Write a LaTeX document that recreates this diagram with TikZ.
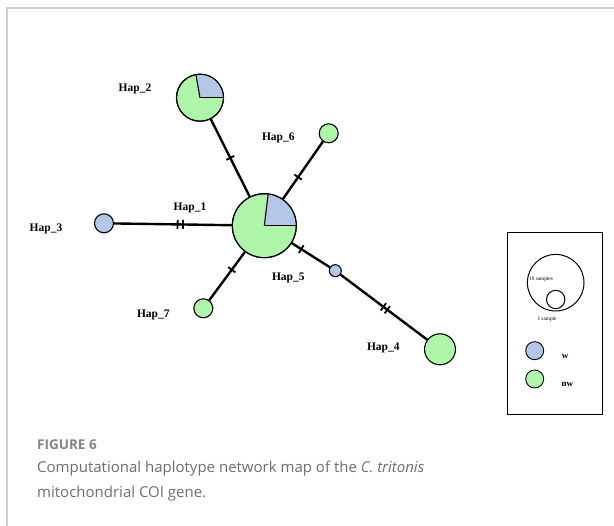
\documentclass[tikz,border=0pt]{standalone}
\usepackage{fontspec}
\setmainfont{Liberation Serif}
\newfontfamily\capfont{Open Sans}
\definecolor{hgreen}{HTML}{AEF5AA}
\definecolor{hblue}{HTML}{B4C7E8}
\definecolor{framegray}{HTML}{CFCFCF}
\definecolor{capgray}{HTML}{6E6E6E}
\begin{document}
\begin{tikzpicture}[x=1pt,y=-1pt,
  hap/.style={circle, draw=black, line width=1.1pt, inner sep=0pt, minimum size=#1},
  hlabel/.style={font=\bfseries\fontsize{11.5}{13}\selectfont, inner sep=0pt},
  edge/.style={line width=2.4pt},
  tickmark/.style={fill=black, inner sep=0pt, minimum width=1.8pt, minimum height=9pt, sloped},
  pieline/.style={line width=1.1pt}
]
\useasboundingbox (0,0) rectangle (614,526);
% frame
\draw[framegray, line width=1.5pt] (7,526) -- (7,8) -- (614,8);

% haplotype circles
\node[hap=64pt, fill=hgreen] (h1) at (264.3,225.7) {};
\node[hap=47pt, fill=hgreen] (h2) at (200,97.7) {};
\node[hap=19pt, fill=hgreen] (h6) at (328.7,133.3) {};
\node[hap=19pt, fill=hblue]  (h3) at (104,223.3) {};
\node[hap=19pt, fill=hgreen] (h7) at (203.3,308.3) {};
\node[hap=12pt, fill=hblue]  (h5) at (335.3,270.7) {};
\node[hap=31pt, fill=hgreen] (h4) at (440,349.3) {};

% pie sectors
\fill[hblue] (h1.center) -- +(0:31.5) arc (0:-83:31.5) -- cycle;
\draw[pieline] (h1.center) -- +(0:31.5);
\draw[pieline] (h1.center) -- +(-83:31.5);
\fill[hblue] (h2.center) -- +(0:23) arc (0:-100:23) -- cycle;
\draw[pieline] (h2.center) -- +(0:23);
\draw[pieline] (h2.center) -- +(-100:23);
\draw[line width=1.1pt] (h1.center) circle[radius=32];
\draw[line width=1.1pt] (h2.center) circle[radius=23.5];

% edges
\draw[edge] (h2) -- node[tickmark, pos=0.5]{} (h1);
\draw[edge] (h6) -- node[tickmark, pos=0.62]{} (h1);
\draw[edge] (h3) -- node[tickmark, pos=0.54]{} node[tickmark, pos=0.585]{} (h1);
\draw[edge] (h7) -- node[tickmark, pos=0.63]{} (h1);
\draw[edge] (h1) -- node[tickmark, pos=0.25]{} (h5);
\draw[edge] (h5) -- node[tickmark, pos=0.495]{} node[tickmark, pos=0.54]{} (h4);

% labels
\node[hlabel] (l2) at (135,89.3) {Hap\_2};
\node[hlabel] (l6) at (278.3,138.3) {Hap\_6};
\node[hlabel] (l1) at (190,208.3) {Hap\_1};
\node[hlabel] (l3) at (46,229) {Hap\_3};
\node[hlabel] (l7) at (153.3,315) {Hap\_7};
\node[hlabel] (l5) at (288.3,278.3) {Hap\_5};
\node[hlabel] (l4) at (383.3,348.3) {Hap\_4};

% legend
\draw[line width=1pt] (507.3,232.7) rectangle (602.7,415);
\node[circle, draw=black, line width=1pt, inner sep=0pt, minimum size=56.6pt] (big) at (555.7,282.7) {};
\node[circle, draw=black, line width=1pt, inner sep=0pt, minimum size=18.4pt] (small) at (555.7,299.5) {};
\node[font=\fontsize{5.3}{6}\selectfont, inner sep=0pt] (t10) at (541,279.3) {10 samples};
\node[font=\fontsize{5.3}{6}\selectfont, inner sep=0pt] (t1) at (547,319) {1 sample};
\node[hap=18pt, fill=hblue, line width=0.9pt] (lw) at (534.7,350.7) {};
\node[hap=18pt, fill=hgreen, line width=0.9pt] (lnw) at (534.7,379) {};
\node[font=\bfseries\fontsize{9}{10}\selectfont, inner sep=0pt] (tw) at (565,356) {w};
\node[font=\bfseries\fontsize{9}{10}\selectfont, inner sep=0pt] (tnw) at (567.3,384) {nw};

% caption
\node[font=\capfont\bfseries\fontsize{13.5}{15}\selectfont, text=capgray!85, anchor=base west, inner sep=0pt] (fig) at (37,449.3) {FIGURE 6};
\node[font=\capfont\fontsize{15}{18}\selectfont, text=capgray, anchor=base west, inner sep=0pt] (cap1) at (37,472.3) {Computational haplotype network map of the \textit{C. tritonis}};
\node[font=\capfont\fontsize{15}{18}\selectfont, text=capgray, anchor=base west, inner sep=0pt] (cap2) at (37,497.7) {mitochondrial COI gene.};
\end{tikzpicture}
\end{document}
